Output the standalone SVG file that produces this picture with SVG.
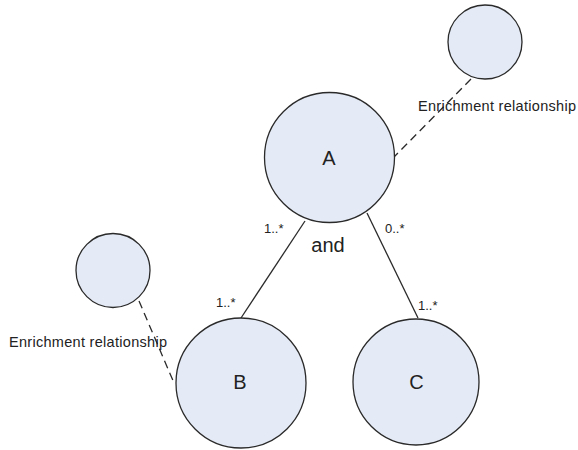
<svg xmlns="http://www.w3.org/2000/svg" width="578" height="450" viewBox="0 0 578 450">
<style>
.node{fill:#e5ebf6;stroke:#2a2a2a;stroke-width:1.3}
.conn{stroke:#2a2a2a;stroke-width:1.3;fill:none}
.dash{stroke-dasharray:8 5}
text{font-family:"Liberation Sans",Arial,sans-serif;fill:#222}
.big{font-size:20px}
.mult{font-size:13px}
.rel{font-size:14.5px}
</style>
<rect width="578" height="450" fill="#fff"/>
<g id="connectors">
<line class="conn" x1="305" y1="221" x2="241" y2="318"/>
<line class="conn" x1="367" y1="213" x2="418" y2="318"/>
<line class="conn dash" x1="471" y1="79" x2="394" y2="157"/>
<line class="conn dash" x1="139" y1="301" x2="174" y2="383"/>
<text class="mult" x="264" y="233">1..*</text>
<text class="mult" x="385" y="233">0..*</text>
<text class="mult" x="216" y="307">1..*</text>
<text class="mult" x="418" y="310">1..*</text>
<text class="rel" x="418" y="111" textLength="158">Enrichment relationship</text>
<text class="rel" x="9" y="347" textLength="158">Enrichment relationship</text>
</g>
<g id="node-A">
<circle class="node" cx="329.5" cy="157.5" r="65"/>
<text class="big" x="329" y="165" text-anchor="middle">A</text>
</g>
<g id="and-label">
<text class="big" x="328" y="252" text-anchor="middle">and</text>
</g>
<g id="node-B">
<circle class="node" cx="241" cy="383" r="65"/>
<text class="big" x="240" y="389" text-anchor="middle">B</text>
</g>
<g id="node-C">
<circle class="node" cx="416" cy="382" r="63"/>
<text class="big" x="416.5" y="389" text-anchor="middle">C</text>
</g>
<g id="node-E1">
<circle class="node" cx="485" cy="42" r="37"/>
</g>
<g id="node-E2">
<circle class="node" cx="113" cy="270.5" r="37"/>
</g>
</svg>
